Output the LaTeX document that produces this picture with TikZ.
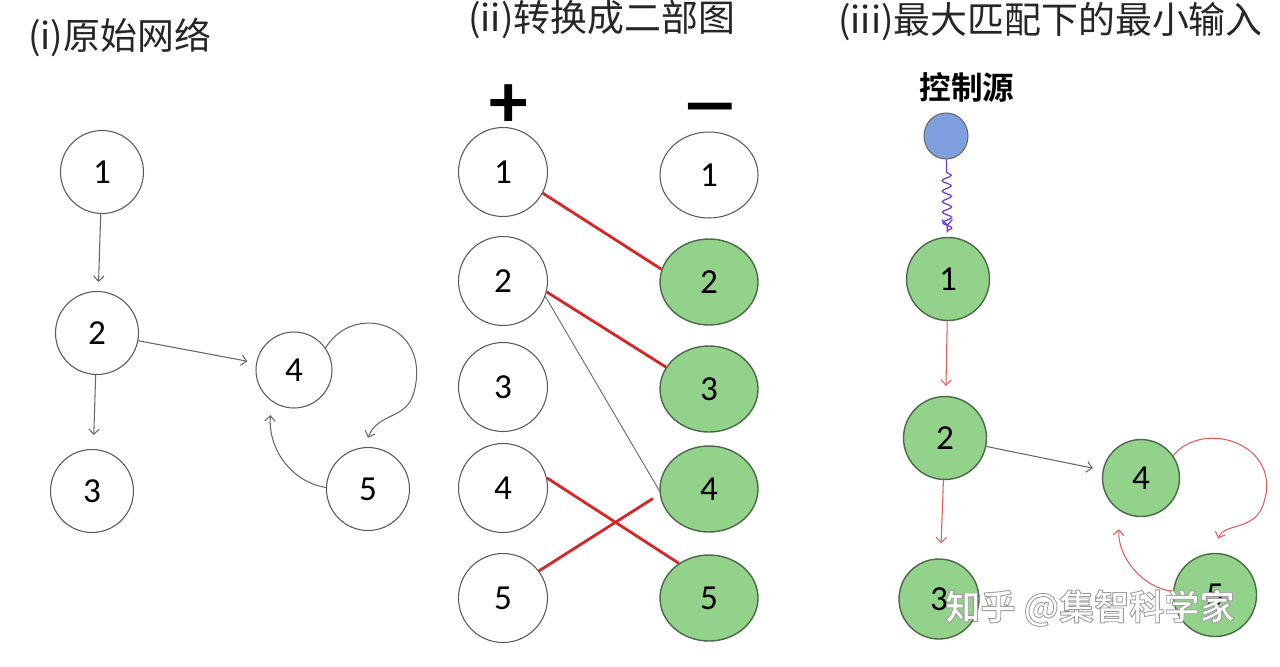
\documentclass[tikz,border=0pt]{standalone}
\usepackage{fontspec}
\setmainfont{Carlito}
\newfontfamily\cjk{Noto Sans CJK SC}
\newfontfamily\cjkbold{Noto Sans CJK SC Bold}
\usetikzlibrary{arrows.meta,decorations.pathmorphing,shapes.geometric}
\definecolor{nodegreen}{HTML}{92D28A}
\definecolor{greenline}{HTML}{4C6A48}
\definecolor{matchred}{HTML}{D42828}
\definecolor{arcred}{HTML}{E25A5A}
\definecolor{srcblue}{HTML}{7F9FDF}
\definecolor{wavepurple}{HTML}{6A3BD8}
% outlined text for the watermark
\newcommand{\outlined}[1]{{\color{white}\special{pdf:literal direct 2 Tr 0.5 w 0.62 G}#1\special{pdf:literal direct 0 Tr}}}
\begin{document}
\begin{tikzpicture}[x=0.02cm,y=-0.02cm,
    vtx/.style={circle,draw=black!65,line width=0.6pt,inner sep=0pt,minimum size=1.66cm,font=\fontsize{20}{20}\selectfont},
    gvtx/.style={vtx,fill=nodegreen,draw=greenline,line width=0.8pt},
    lvtx/.style={vtx,minimum size=1.78cm},
    rvtx/.style={ellipse,draw=black!65,line width=0.6pt,inner sep=0pt,minimum width=1.96cm,minimum height=1.72cm,font=\fontsize{20}{20}\selectfont},
    grvtx/.style={rvtx,fill=nodegreen,draw=greenline,line width=0.8pt},
    arc/.style={-{Straight Barb[length=3pt,width=6pt]},draw=black!60,line width=0.6pt},
    redarc/.style={arc,draw=arcred},
    match/.style={draw=matchred,line width=1.6pt},
    title/.style={anchor=west,inner sep=0pt,font=\cjk\fontsize{21}{21}\selectfont,text=black!85}]
  \useasboundingbox[fill=white] (0,0) rectangle (1280,666);
  % titles
  \node[title] (t1) at (28,37) {(i)原始网络};
  \node[title] (t2) at (468,20) {(ii)转换成二部图};
  \node[title] (t3) at (838,22) {(iii)最大匹配下的最小输入};
  % (i) original network
  \path
    (102,172) node[vtx] (a1){1}
    (97,333) node[vtx] (a2){2}
    (92,491) node[vtx] (a3){3}
    (294,370) node[vtx,minimum size=1.52cm] (a4){4}
    (368,489) node[vtx] (a5){5};
  \begin{scope}[arc]
    \draw[shorten >=0.18cm] (a1) to (a2);
    \draw[shorten >=0.28cm] (a2) to (a3);
    \draw[shorten >=0.18cm] (a2) to (a4);
    \draw[shorten >=0.2cm] (a4.35) .. controls (355,300) and (432,325) .. (414,392)
      .. controls (407,420) and (378,412) .. (a5.95);
    \draw[shorten >=0.28cm] (a5.178) .. controls (292,482) and (268,450) .. (a4.234);
  \end{scope}
  % (ii) bipartite graph
  \node[font=\fontsize{44}{44}\selectfont\bfseries] (plus) at (509,106) {+};
  \node[font=\fontsize{44}{44}\selectfont\bfseries,xscale=1.6] (minus) at (710,116) {–};
  \path
    (503,172) node[lvtx] (l1){1}
    (503,281) node[lvtx] (l2){2}
    (503,387) node[lvtx] (l3){3}
    (503,488) node[lvtx] (l4){4}
    (503,598) node[lvtx] (l5){5}
    (709,175) node[rvtx] (r1){1}
    (709,282) node[grvtx] (r2){2}
    (709,389) node[grvtx] (r3){3}
    (709,489) node[grvtx] (r4){4}
    (709,598) node[grvtx] (r5){5};
  \begin{scope}[-]
    \draw[draw=black!60,line width=0.5pt] (l2.-20) to (r4.182);
    \draw[match] (l1.-28) to (r2.165);
    \draw[match] (l2.-14) to (r3.153);
    \draw[match] (l4.13) to (r5.131);
    \draw[match,shorten >=0.16cm] (l5.37) to (r4.186);
  \end{scope}
  % (iii) minimum input under maximum matching
  \node[font=\cjkbold\fontsize{18}{18}\selectfont] (srclabel) at (967,87) {控制源};
  \node[ellipse,fill=srcblue,draw=black!60,line width=0.6pt,minimum width=0.88cm,minimum height=0.92cm] (src) at (946,136) {};
  \path
    (948,279) node[gvtx] (c1){1}
    (945,438) node[gvtx] (c2){2}
    (939,599) node[gvtx,minimum size=1.6cm] (c3){3}
    (1141,478) node[gvtx,minimum size=1.54cm] (c4){4}
    (1215,595) node[gvtx] (c5){5};
  \draw[-{Straight Barb[length=3pt,width=6pt]},draw=wavepurple,line width=0.7pt,shorten >=0.22cm,
    decorate,decoration={snake,amplitude=2.6pt,segment length=6pt,pre length=0.25cm,post length=0.1cm}]
    (src) to (c1);
  \begin{scope}[redarc]
    \draw[shorten >=0.2cm] (c1) to (c2);
    \draw[shorten >=0.3cm] (c2) to (c3);
    \draw[shorten >=0.3cm] (c4.35) .. controls (1205,418) and (1282,445) .. (1264,502)
      .. controls (1256,532) and (1224,522) .. (c5.92);
    \draw[shorten >=0.36cm] (c5.175) .. controls (1142,588) and (1117,556) .. (c4.238);
  \end{scope}
  \draw[arc,shorten >=0.2cm] (c2) to (c4);
  % watermark
  \node[font=\cjkbold\fontsize{20}{20}\selectfont] (mark) at (1090,608) {\outlined{知乎 @集智科学家}};
\end{tikzpicture}
\end{document}
